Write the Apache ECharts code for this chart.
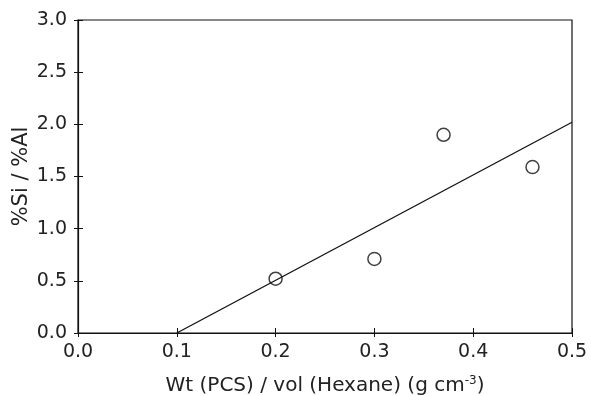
<!DOCTYPE html>
<html><head><meta charset="utf-8">
<script src="https://cdn.jsdelivr.net/npm/echarts@6/dist/echarts.min.js"></script>
<style>html,body{margin:0;padding:0;background:#fff}#c{width:591px;height:396px}</style>
</head><body><div id="c"></div>
<script>
const xValues = [0.2, 0.3, 0.37, 0.46];
const yValues = [0.52, 0.71, 1.90, 1.59];
const fitX = [0.1, 0.5];
const fitY = [0.0, 2.02];
const xTicks = [0.0, 0.1, 0.2, 0.3, 0.4, 0.5];
const yTicks = [0.0, 0.5, 1.0, 1.5, 2.0, 2.5, 3.0];

const chart = echarts.init(document.getElementById('c'));
const font = '"DejaVu Sans", Verdana, sans-serif';
const tickLbl = v => v.toFixed(1);
const hidden = {show: false};
chart.setOption({
  animation: false,
  grid: {left: 78, right: 19, top: 20, bottom: 63, containLabel: false, outerBoundsMode: 'none',
         show: true, borderColor: '#111', borderWidth: 1.2},
  xAxis: [{
    type: 'value', min: xTicks[0], max: xTicks[xTicks.length - 1], interval: 0.1,
    name: 'Wt (PCS) / vol (Hexane) (g cm{sup|-3})',
    nameLocation: 'middle', nameGap: 42,
    nameTextStyle: {fontFamily: font, fontSize: 20, color: '#222', rich: {sup: {fontSize: 12, verticalAlign: 'top', padding: [0,0,10,0], color: '#222', fontFamily: font}}},
    axisLine: {lineStyle: {color: '#111', width: 1.2}},
    axisTick: {inside: true, length: 5, lineStyle: {color: '#111'}},
    axisLabel: {fontFamily: font, fontSize: 19, color: '#222', margin: 10, formatter: tickLbl},
    splitLine: hidden
  }, {
    type: 'value', min: xTicks[0], max: xTicks[xTicks.length - 1], interval: 0.1, position: 'bottom',
    axisLine: hidden, axisLabel: hidden, splitLine: hidden,
    axisTick: {inside: false, length: 4, lineStyle: {color: '#111'}}
  }],
  yAxis: [{
    type: 'value', min: yTicks[0], max: yTicks[yTicks.length - 1], interval: 0.5,
    name: '%Si / %Al', nameLocation: 'middle', nameGap: 46, nameMoveOverlap: false,
    nameTextStyle: {fontFamily: font, fontSize: 21, color: '#222'},
    axisLine: {lineStyle: {color: '#111', width: 1.2}},
    axisTick: {inside: true, length: 5, lineStyle: {color: '#111'}},
    axisLabel: {fontFamily: font, fontSize: 19, color: '#222', margin: 11, formatter: tickLbl},
    splitLine: hidden
  }, {
    type: 'value', min: yTicks[0], max: yTicks[yTicks.length - 1], interval: 0.5, position: 'left',
    axisLine: hidden, axisLabel: hidden, splitLine: hidden,
    axisTick: {inside: false, length: 4, lineStyle: {color: '#111'}}
  }],
  series: [
    {type: 'line', data: fitX.map((x, i) => [x, fitY[i]]), symbol: 'none', lineStyle: {color: '#111', width: 1.3}},
    {type: 'scatter', data: xValues.map((x, i) => [x, yValues[i]]), symbol: 'circle', symbolSize: 13,
     itemStyle: {color: '#fff', borderColor: '#111', borderWidth: 1.5}}
  ]
});
</script></body></html>
